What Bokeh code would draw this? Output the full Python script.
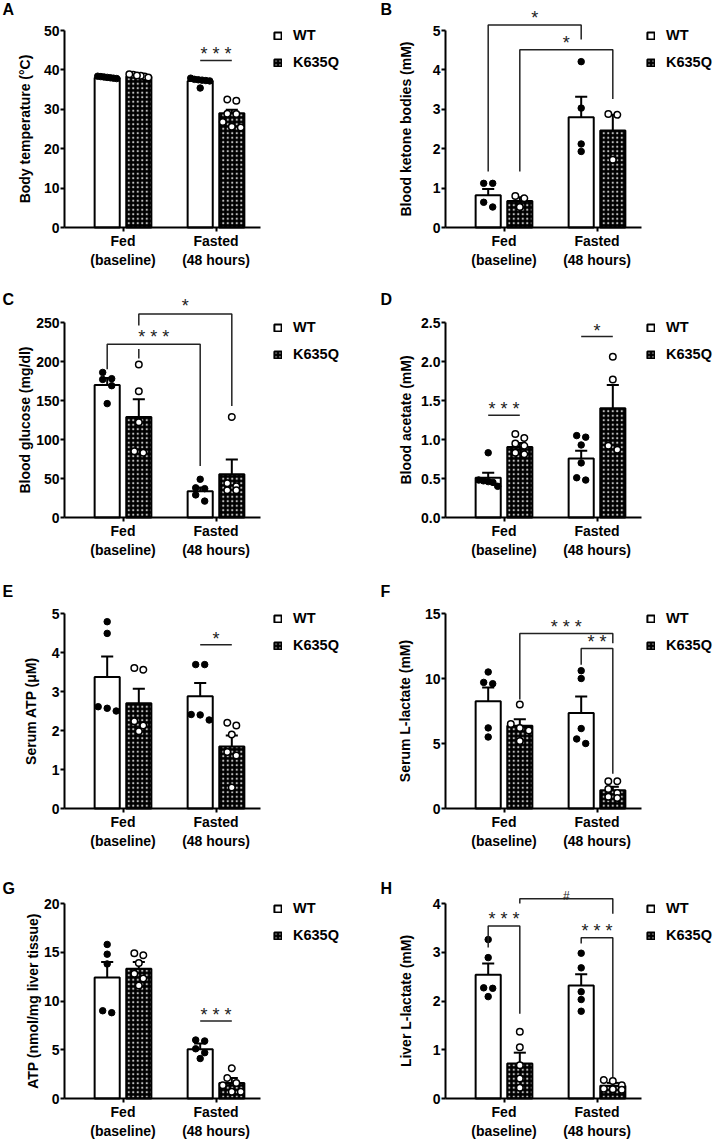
from bokeh.plotting import figure
from bokeh.layouts import column, row
from bokeh.models import (FixedTicker, Label, Legend, LegendItem,
                          NumeralTickFormatter)
from bokeh.embed import file_html
from bokeh.resources import INLINE

# ---------------- data ----------------
groups = [1, 2]
group_labels = ["Fed\n(baseline)", "Fasted\n(48 hours)"]
series = ["WT", "K635Q"]

# A
A_ylabel = "Body temperature (°C)"
A_ticks = [0, 10, 20, 30, 40, 50]
A_wt_mean = [38.0, 37.2]
A_wt_sem = [0.15, 0.3]
A_k_mean = [38.3, 29.0]
A_k_sem = [0.15, 0.9]
A_wt_pts = [[38.3, 38.0, 38.4, 38.1, 37.8, 38.2, 37.9], [37.9, 37.6, 37.2, 37.4, 37.5, 35.4, 37.3]]
A_k_pts = [[38.8, 38.3, 38.9, 38.5, 38.1, 38.6], [32.2, 32.5, 28.8, 28.9, 25.4, 26.8, 25.6]]
A_sig = [(2, 3, 42.4, 42.4, 42.4, "* * *", 45.0)]

# B
B_ylabel = "Blood ketone bodies (mM)"
B_ticks = [0, 1, 2, 3, 4, 5]
B_wt_mean = [0.82, 2.80]
B_wt_sem = [0.16, 0.52]
B_k_mean = [0.67, 2.46]
B_k_sem = [0.10, 0.40]
B_wt_pts = [[1.12, 1.12, 0.52, 0.64], [4.21, 3.03, 2.12, 1.93]]
B_k_pts = [[0.80, 0.74, 0.52], [2.88, 2.86, 1.72]]
B_sig = [(0, 2, 1.42, 5.14, 4.77, "*", 5.42), (1, 3, 1.42, 4.51, 3.26, "*", 4.79)]

# C
C_ylabel = "Blood glucose (mg/dl)"
C_ticks = [0, 50, 100, 150, 200, 250]
C_wt_mean = [170, 33.5]
C_wt_sem = [9, 5]
C_k_mean = [129, 55.6]
C_k_sem = [22.5, 18.8]
C_wt_pts = [[186, 178, 177, 169, 146], [49, 38, 37, 29, 21]]
C_k_pts = [[196, 162, 122, 83, 85], [129, 35, 40, 44, 35]]
C_sig = [(0, 2, 190, 222, 66, "* * *", 236),
         (1, 3, 204, 261, 143, "*", 276, (216, 246))]

# D
D_ylabel = "Blood acetate (mM)"
D_ticks = [0, 0.5, 1.0, 1.5, 2.0, 2.5]
D_wt_mean = [0.51, 0.755]
D_wt_sem = [0.065, 0.10]
D_k_mean = [0.905, 1.40]
D_k_sem = [0.05, 0.30]
D_wt_pts = [[0.83, 0.48, 0.46, 0.47, 0.45, 0.40], [1.05, 1.03, 0.93, 0.70, 0.48, 0.51]]
D_k_pts = [[1.07, 1.02, 0.95, 0.92, 0.81, 0.83], [2.06, 1.77, 0.87, 0.92]]
D_sig = [(0, 1, 1.31, 1.31, 1.31, "* * *", 1.44), (2, 3, 2.32, 2.32, 2.32, "*", 2.44)]

# E
E_ylabel = "Serum ATP (μM)"
E_ticks = [0, 1, 2, 3, 4, 5]
E_wt_mean = [3.37, 2.88]
E_wt_sem = [0.53, 0.34]
E_k_mean = [2.70, 1.59]
E_k_sem = [0.37, 0.28]
E_wt_pts = [[4.79, 4.49, 2.50, 2.61, 2.57], [3.69, 3.69, 2.27, 2.41, 2.40]]
E_k_pts = [[3.56, 3.60, 2.24, 2.13, 1.98], [2.13, 2.20, 1.90, 1.45, 1.36, 0.54]]
E_sig = [(2, 3, 4.20, 4.20, 4.20, "*", 4.45)]

# F
F_ylabel = "Serum L-lactate (mM)"
F_ticks = [0, 5, 10, 15]
F_wt_mean = [8.25, 7.35]
F_wt_sem = [1.05, 1.27]
F_k_mean = [6.36, 1.40]
F_k_sem = [0.50, 0.27]
F_wt_pts = [[10.5, 9.6, 9.7, 6.2, 5.5], [10.6, 10.0, 6.15, 5.0, 5.35]]
F_k_pts = [[8.0, 6.2, 6.5, 6.0, 5.2], [2.1, 2.1, 1.5, 1.2, 0.9, 0.8]]
F_sig = [(1, 3, 8.39, 13.47, 12.71, "* * *", 14.3), (2, 3, 11.06, 12.3, 2.67, "* *", 13.1)]

# G
G_ylabel = "ATP (nmol/mg liver tissue)"
G_ticks = [0, 5, 10, 15, 20]
G_wt_mean = [12.4, 5.05]
G_wt_sem = [1.6, 0.6]
G_k_mean = [13.3, 1.6]
G_k_sem = [0.7, 0.5]
G_wt_pts = [[15.8, 14.8, 13.8, 8.8, 9.0], [6.0, 5.9, 5.1, 4.1, 4.7]]
G_k_pts = [[14.9, 14.7, 13.9, 12.8, 12.3, 11.6], [3.1, 2.1, 1.6, 1.35, 0.7, 0.7]]
G_sig = [(2, 3, 7.94, 7.94, 7.94, "* * *", 8.96)]

# H
H_ylabel = "Liver L-lactate (mM)"
H_ticks = [0, 1, 2, 3, 4]
H_wt_mean = [2.54, 2.32]
H_wt_sem = [0.23, 0.23]
H_k_mean = [0.72, 0.26]
H_k_sem = [0.22, 0.06]
H_wt_pts = [[3.26, 2.89, 2.27, 2.26, 2.09], [2.98, 2.68, 2.19, 2.03, 1.79]]
H_k_pts = [[1.37, 1.05, 0.68, 0.41, 0.22], [0.38, 0.36, 0.27, 0.19, 0.20, 0.18]]
H_sig = [(0, 1, 3.10, 3.54, 1.74, "* * *", 3.76),
         (2, 3, 3.18, 3.30, 0.44, "* * *", 3.52),
         (1, 3, 4.00, 4.10, 3.79, "#", 4.24)]

PANELS = [
    dict(letter="A", ylabel=A_ylabel, ticks=A_ticks, wt_mean=A_wt_mean, wt_sem=A_wt_sem,
         k_mean=A_k_mean, k_sem=A_k_sem, wt_pts=A_wt_pts, k_pts=A_k_pts, sig=A_sig),
    dict(letter="B", ylabel=B_ylabel, ticks=B_ticks, wt_mean=B_wt_mean, wt_sem=B_wt_sem,
         k_mean=B_k_mean, k_sem=B_k_sem, wt_pts=B_wt_pts, k_pts=B_k_pts, sig=B_sig),
    dict(letter="C", ylabel=C_ylabel, ticks=C_ticks, wt_mean=C_wt_mean, wt_sem=C_wt_sem,
         k_mean=C_k_mean, k_sem=C_k_sem, wt_pts=C_wt_pts, k_pts=C_k_pts, sig=C_sig),
    dict(letter="D", ylabel=D_ylabel, ticks=D_ticks, wt_mean=D_wt_mean, wt_sem=D_wt_sem,
         k_mean=D_k_mean, k_sem=D_k_sem, wt_pts=D_wt_pts, k_pts=D_k_pts, sig=D_sig, fmt="0.0"),
    dict(letter="E", ylabel=E_ylabel, ticks=E_ticks, wt_mean=E_wt_mean, wt_sem=E_wt_sem,
         k_mean=E_k_mean, k_sem=E_k_sem, wt_pts=E_wt_pts, k_pts=E_k_pts, sig=E_sig),
    dict(letter="F", ylabel=F_ylabel, ticks=F_ticks, wt_mean=F_wt_mean, wt_sem=F_wt_sem,
         k_mean=F_k_mean, k_sem=F_k_sem, wt_pts=F_wt_pts, k_pts=F_k_pts, sig=F_sig),
    dict(letter="G", ylabel=G_ylabel, ticks=G_ticks, wt_mean=G_wt_mean, wt_sem=G_wt_sem,
         k_mean=G_k_mean, k_sem=G_k_sem, wt_pts=G_wt_pts, k_pts=G_k_pts, sig=G_sig),
    dict(letter="H", ylabel=H_ylabel, ticks=H_ticks, wt_mean=H_wt_mean, wt_sem=H_wt_sem,
         k_mean=H_k_mean, k_sem=H_k_sem, wt_pts=H_wt_pts, k_pts=H_k_pts, sig=H_sig),
]

# ---------------- layout / style ----------------
FONT = "Liberation Sans"
XPX = 93.0            # pixels per x unit
OFF = 0.17            # bar offset from group centre
BAR_W = 0.27
CAP = 0.065
ROW_TOP = [0, 287, 578, 869]
ROW_H = [287, 291, 291, 273]
Y0_PX = [227, 517, 808, 1098]
YMAX_PX = [30, 322, 613, 903]
FIG_W = [358, 356]
AXIS_LEFT = [64, 87]      # y-axis position inside each figure (px)
AXIS_LEN = 196            # x-axis length (px)
LEG_X = [273, 288]
LETTER_X = [2, 22]
LETTER_Y = [0, 290, 582, 879]
STANDOFF = {"A": 8, "B": 16, "C": 0, "D": 4, "E": 10, "F": 9, "G": 0, "H": 16}


def swarm(vals, ppu, bar_px=25.0, hit=7.0, step0=9.0):
    order = sorted(range(len(vals)), key=lambda i: -vals[i])
    rows = []
    for i in order:
        if rows and (vals[rows[-1][0]] - vals[i]) * ppu < hit:
            rows[-1].append(i)
        else:
            rows.append([i])
    offs = [0.0] * len(vals)
    for r in rows:
        n = len(r)
        if n == 1:
            continue
        step = min(step0, (bar_px - 6) / (n - 1))
        for k, i in enumerate(r):
            offs[i] = (k - (n - 1) / 2) * step
    return offs


def build(pn, col, ri):
    W = FIG_W[col]
    H = ROW_H[ri]
    al = AXIS_LEFT[col]
    ymax = pn["ticks"][-1]
    ppu = (Y0_PX[ri] - YMAX_PX[ri]) / ymax
    y_top = (Y0_PX[ri] - ROW_TOP[ri]) / ppu
    y_bot = -(ROW_TOP[ri] + H - Y0_PX[ri]) / ppu
    ax_x0 = 1 - 58.5 / XPX                 # data x at the y-axis
    x_start = ax_x0 - al / XPX
    x_end = x_start + W / XPX
    p = figure(width=W, height=H, x_range=(x_start, x_end), y_range=(y_bot, y_top),
               output_backend="svg", toolbar_location=None,
               min_border_left=0, min_border_right=0, min_border_top=0, min_border_bottom=0,
               outline_line_color=None, background_fill_color="white")
    p.xgrid.visible = False
    p.ygrid.visible = False

    wt_x = [g - OFF for g in groups]
    k_x = [g + OFF for g in groups]
    r_wt = p.vbar(x=wt_x, top=pn["wt_mean"], width=BAR_W, bottom=0,
                  fill_color="white", line_color="black", line_width=2)
    r_k = p.vbar(x=k_x, top=pn["k_mean"], width=BAR_W, bottom=0,
                 fill_color="black", line_color="black", line_width=2,
                 hatch_pattern="dot", hatch_color="white", hatch_scale=4.5,
                 hatch_weight=0.5, hatch_alpha=0.75)

    for xs, m, s in ((wt_x, pn["wt_mean"], pn["wt_sem"]), (k_x, pn["k_mean"], pn["k_sem"])):
        tops = [a + b for a, b in zip(m, s)]
        p.segment(x0=xs, y0=m, x1=xs, y1=tops, line_color="black", line_width=2)
        p.segment(x0=[x - CAP for x in xs], y0=tops, x1=[x + CAP for x in xs], y1=tops,
                  line_color="black", line_width=2)

    for xs, pts, wt in ((wt_x, pn["wt_pts"], True), (k_x, pn["k_pts"], False)):
        px, py = [], []
        for xc, vals in zip(xs, pts):
            offs = swarm(vals, ppu)
            px += [xc + o / XPX for o in offs]
            py += vals
        if wt:
            p.scatter(px, py, size=6.5, fill_color="black", line_color="black", line_width=1)
        else:
            p.scatter(px, py, size=6.5, fill_color="white", line_color="black", line_width=1.5)

    bar_x = [1 - OFF, 1 + OFF, 2 - OFF, 2 + OFF]
    for s in pn["sig"]:
        bl, br, yl, yt, yr, txt, ty = s[:7]
        xl, xr = bar_x[bl], bar_x[br]
        if len(s) > 7:
            g0, g1 = s[7]
            xs_ = [[xl, xl], [xl, xl, xr, xr]]
            ys_ = [[yl, g0], [g1, yt, yt, yr]]
        else:
            xs_ = [[xl, xl, xr, xr]]
            ys_ = [[yl, yt, yt, yr]]
        p.multi_line(xs_, ys_, line_color="#222222", line_width=1.5)
        small = txt == "#"
        p.add_layout(Label(x=(xl + xr) / 2, y=ty, text=txt, text_align="center",
                           text_baseline="middle", y_offset=-4,
                           text_font=FONT, text_font_size="12px" if small else "18px",
                           text_color="#222222"))

    xa = p.xaxis[0]
    ya = p.yaxis[0]
    xa.fixed_location = 0
    ya.fixed_location = ax_x0
    xa.ticker = FixedTicker(ticks=groups, minor_ticks=[])
    xa.major_label_overrides = {g: lab for g, lab in zip(groups, group_labels)}
    xa.bounds = (ax_x0, ax_x0 + AXIS_LEN / XPX)
    ya.ticker = FixedTicker(ticks=pn["ticks"], minor_ticks=[])
    ya.bounds = (0, ymax)
    if pn.get("fmt"):
        ya.formatter = NumeralTickFormatter(format=pn["fmt"])
    for ax in (xa, ya):
        ax.axis_line_width = 2
        ax.axis_line_color = "black"
        ax.major_tick_line_width = 2
        ax.major_tick_line_color = "black"
        ax.major_tick_out = 4
        ax.major_tick_in = 0
        ax.minor_tick_line_color = None
        ax.major_label_text_font = FONT
        ax.major_label_text_font_style = "bold"
        ax.major_label_text_font_size = "14px"
        ax.major_label_text_color = "black"
    xa.major_label_standoff = 1
    ya.major_label_standoff = 1
    ya.axis_label = pn["ylabel"]
    ya.axis_label_text_font = FONT
    ya.axis_label_text_font_style = "bold"
    ya.axis_label_text_font_size = "14px"
    ya.axis_label_text_color = "black"
    ya.axis_label_standoff = STANDOFF[pn["letter"]]

    item_h = 17
    leg_h = 2 * item_h + 10
    top_from_fig_top = YMAX_PX[ri] + 5 - ROW_TOP[ri] - item_h / 2
    ly = H - top_from_fig_top - leg_h
    leg = Legend(items=[LegendItem(label=series[0], renderers=[r_wt]),
                        LegendItem(label=series[1], renderers=[r_k])],
                 location=(LEG_X[col], ly), orientation="vertical", padding=0, margin=0,
                 spacing=10, glyph_width=9, glyph_height=9, label_height=item_h,
                 label_standoff=11, label_text_font=FONT, label_text_font_style="bold",
                 label_text_font_size="14.5px", label_text_color="black",
                 border_line_color=None, background_fill_alpha=0)
    p.add_layout(leg)

    lx = x_start + LETTER_X[col] / XPX
    ly_ = (Y0_PX[ri] - LETTER_Y[ri]) / ppu
    p.add_layout(Label(x=lx, y=ly_, text=pn["letter"], text_font=FONT,
                       text_font_style="bold", text_font_size="16px",
                       text_baseline="top", text_align="left", text_color="black"))
    return p


figs = [build(pn, i % 2, i // 2) for i, pn in enumerate(PANELS)]
layout = column(*[row(figs[2 * r], figs[2 * r + 1]) for r in range(4)])

with open("out.html", "w") as f:
    f.write(file_html(layout, INLINE, title="Bar charts"))
